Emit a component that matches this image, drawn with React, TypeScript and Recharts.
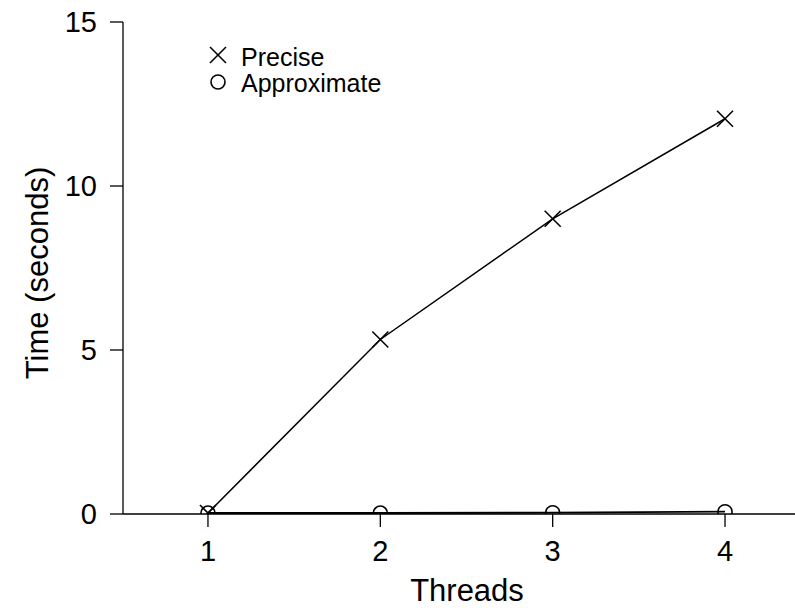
import { Label, Legend, Line, LineChart, XAxis, YAxis } from 'recharts';

const THREADS = [1, 2, 3, 4];
const PRECISE = [0.03, 5.32, 9.0, 12.05];
const APPROXIMATE = [0.03, 0.03, 0.04, 0.07];
const Y_TICKS = [0, 5, 10, 15];

const FONT = '"Liberation Sans", Arial, Helvetica, sans-serif';
const INK = '#000';

const data = THREADS.map((t, i) => ({ threads: t, precise: PRECISE[i], approximate: APPROXIMATE[i] }));

function CrossDot({ cx, cy }: { cx?: number; cy?: number }) {
  if (cx == null || cy == null) return null;
  const s = 8;
  return (
    <g stroke={INK} strokeWidth={1.6}>
      <line x1={cx - s} y1={cy - s} x2={cx + s} y2={cy + s} />
      <line x1={cx - s} y1={cy + s} x2={cx + s} y2={cy - s} />
    </g>
  );
}

function CircleDot({ cx, cy }: { cx?: number; cy?: number }) {
  if (cx == null || cy == null) return null;
  return <circle cx={cx} cy={cy} r={7} fill="none" stroke={INK} strokeWidth={1.6} />;
}

function LegendBox() {
  return (
    <svg width={260} height={62} style={{ overflow: 'visible', display: 'block' }}>
      <CrossDot cx={17} cy={15} />
      <text x={40} y={26} fontSize={25} fontFamily={FONT} fill={INK}>Precise</text>
      <CircleDot cx={17} cy={42} />
      <text x={40} y={52} fontSize={25} fontFamily={FONT} fill={INK}>Approximate</text>
    </svg>
  );
}

function YLabel({ viewBox }: { viewBox?: { x: number; y: number; width: number; height: number } }) {
  if (!viewBox) return null;
  const cx = 48;
  const cy = 273;
  return (
    <text
      x={cx}
      y={cy}
      transform={`rotate(-90, ${cx}, ${cy})`}
      textAnchor="middle"
      fontSize={31}
      fontFamily={FONT}
      fill={INK}
    >
      Time (seconds)
    </text>
  );
}

export default function App() {
  const tickStyle = { fill: INK, fontSize: 29, fontFamily: FONT };
  return (
    <div style={{ width: 795, height: 610, background: '#fff', position: 'relative' }}>
      <style>{'body{margin:0}'}</style>
      <LineChart width={795} height={610} data={data} margin={{ top: 22, right: 0, left: 0, bottom: 0 }}>
        <XAxis
          dataKey="threads"
          type="number"
          domain={[0.507, 4.406]}
          ticks={THREADS}
          height={96}
          tick={tickStyle}
          tickSize={13}
          tickMargin={13}
          stroke={INK}
          strokeWidth={1.3}
          allowDataOverflow
        >
          <Label value="Threads" position="insideBottom" offset={9} fontSize={31} fontFamily={FONT} fill={INK} dx={8} />
        </XAxis>
        <YAxis
          domain={[0, 15]}
          ticks={Y_TICKS}
          width={123}
          tick={tickStyle}
          tickSize={13}
          tickMargin={13}
          stroke={INK}
          strokeWidth={1.3}
          allowDataOverflow
        >
          <Label content={<YLabel />} />
        </YAxis>
        <Legend
          layout="vertical"
          verticalAlign="middle"
          align="center"
          content={() => <LegendBox />}
          wrapperStyle={{ left: 201, top: 40, width: 260, height: 62 }}
        />
        <Line
          dataKey="precise"
          name="Precise"
          stroke={INK}
          strokeWidth={1.5}
          dot={<CrossDot />}
          activeDot={false}
          isAnimationActive={false}
        />
        <Line
          dataKey="approximate"
          name="Approximate"
          stroke={INK}
          strokeWidth={1.8}
          dot={<CircleDot />}
          activeDot={false}
          isAnimationActive={false}
        />
      </LineChart>
    </div>
  );
}
